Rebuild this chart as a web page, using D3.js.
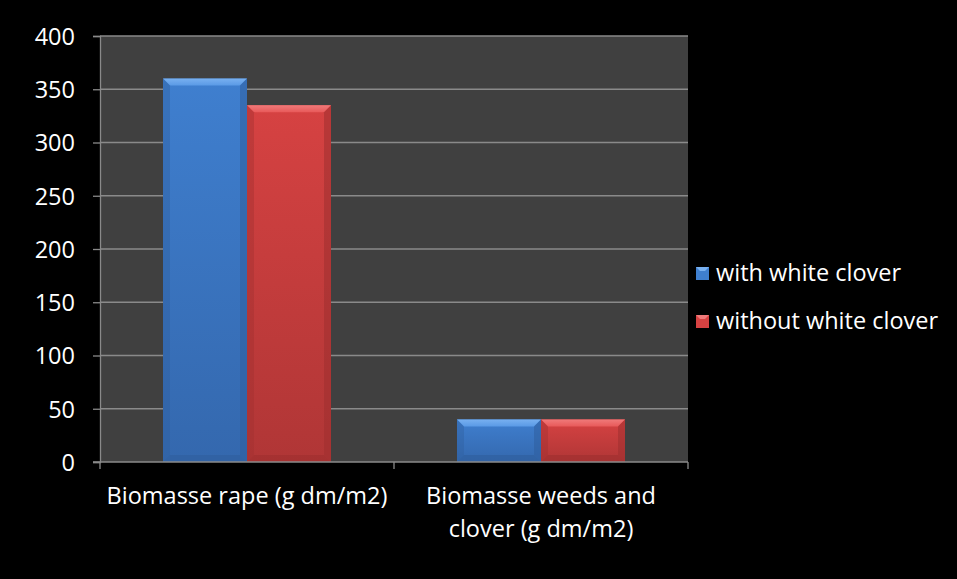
<!DOCTYPE html>
<html>
<head>
<meta charset="utf-8">
<script src="https://cdn.jsdelivr.net/npm/d3@7/dist/d3.min.js"></script>
<style>
  html, body { margin: 0; padding: 0; background: #000; }
  svg { display: block; }
  text { font-family: "Open Sans", "Liberation Sans", sans-serif; fill: #fff; }
</style>
</head>
<body>
<svg id="chart" width="957" height="579"></svg>
<script>
// Biomass data: two categories, two treatments
const categories = ["Biomasse rape (g dm/m2)", "Biomasse weeds and clover (g dm/m2)"];
const categoryLines = [["Biomasse rape (g dm/m2)"], ["Biomasse weeds and", "clover (g dm/m2)"]];
const seriesNames = ["with white clover", "without white clover"];
const withClover = [360, 40];
const withoutClover = [335, 40];
const yTicks = [0, 50, 100, 150, 200, 250, 300, 350, 400];

const seriesValues = [withClover, withoutClover];
const palette = [
  { top: "#5a9ae6", mid: "#3f7fcf", bot: "#3468ae", edge: "#2f5f9e", bevel: "#78b0f0" },
  { top: "#e85a5a", mid: "#d64242", bot: "#b03636", edge: "#9f2f2f", bevel: "#f07a7a" }
];

const svg = d3.select("#chart");
const W = 957, H = 579;
const plot = { left: 100, right: 688, top: 36, bottom: 462 };
const labelSize = "23.5px";

svg.append("rect").attr("width", W).attr("height", H).attr("fill", "#000");

const x = d3.scaleBand().domain(categories).range([plot.left, plot.right]).padding(0);
const y = d3.scaleLinear().domain([0, 400]).range([plot.bottom, plot.top]);

// plot background
svg.append("rect")
  .attr("x", plot.left).attr("y", plot.top)
  .attr("width", plot.right - plot.left).attr("height", plot.bottom - plot.top)
  .attr("fill", "#404040");

// gridlines
svg.append("g").selectAll("line").data(yTicks.filter(d => d > 0)).join("line")
  .attr("x1", plot.left).attr("x2", plot.right)
  .attr("y1", d => y(d)).attr("y2", d => y(d))
  .attr("stroke", "#8a8a8a").attr("stroke-width", 1.3);

// gradients per series
const defs = svg.append("defs");
palette.forEach((p, i) => {
  const g = defs.append("linearGradient").attr("id", "body" + i)
    .attr("x1", 0).attr("y1", 0).attr("x2", 0).attr("y2", 1);
  g.append("stop").attr("offset", "0%").attr("stop-color", p.mid);
  g.append("stop").attr("offset", "100%").attr("stop-color", p.bot);
  const t = defs.append("linearGradient").attr("id", "bevel" + i)
    .attr("x1", 0).attr("y1", 0).attr("x2", 0).attr("y2", 1);
  t.append("stop").attr("offset", "0%").attr("stop-color", p.bevel);
  t.append("stop").attr("offset", "100%").attr("stop-color", p.top);
});

// bars: group of two, gap width 150% of a bar
const inner = d3.scaleBand().domain(d3.range(seriesNames.length))
  .range([0, x.bandwidth()]).paddingInner(0).paddingOuter(0.75);

const bars = [];
categories.forEach((c, ci) => {
  seriesValues.forEach((vals, si) => {
    bars.push({ c, si, v: vals[ci] });
  });
});

const bevel = 7;
const barG = svg.append("g");
bars.forEach(b => {
  const x0 = x(b.c) + inner(b.si);
  const w = inner.bandwidth();
  const y0 = y(b.v), y1 = y(0);
  const h = y1 - y0;
  const p = palette[b.si];
  const g = barG.append("g");
  g.append("rect").attr("x", x0).attr("y", y0).attr("width", w).attr("height", h)
    .attr("fill", `url(#body${b.si})`);
  const bv = Math.min(bevel, h / 2);
  // top bevel
  g.append("path")
    .attr("d", `M${x0},${y0} L${x0 + w},${y0} L${x0 + w - bv},${y0 + bv} L${x0 + bv},${y0 + bv} Z`)
    .attr("fill", `url(#bevel${b.si})`);
  // side bevels
  g.append("path")
    .attr("d", `M${x0},${y0} L${x0 + bv},${y0 + bv} L${x0 + bv},${y1 - bv} L${x0},${y1} Z`)
    .attr("fill", p.edge).attr("opacity", 0.4);
  g.append("path")
    .attr("d", `M${x0 + w},${y0} L${x0 + w - bv},${y0 + bv} L${x0 + w - bv},${y1 - bv} L${x0 + w},${y1} Z`)
    .attr("fill", p.edge).attr("opacity", 0.55);
  // bottom bevel
  g.append("path")
    .attr("d", `M${x0},${y1} L${x0 + bv},${y1 - bv} L${x0 + w - bv},${y1 - bv} L${x0 + w},${y1} Z`)
    .attr("fill", p.edge).attr("opacity", 0.65);
});

// y axis
const yAxis = svg.append("g").attr("transform", `translate(${plot.left},0)`)
  .call(d3.axisLeft(y).tickValues(yTicks).tickSize(7).tickPadding(18).tickFormat(d3.format("d")));
yAxis.select(".domain").attr("stroke", "#8a8a8a").attr("stroke-width", 1.3);
yAxis.selectAll(".tick line").attr("stroke", "#8a8a8a").attr("stroke-width", 1.3);
yAxis.selectAll(".tick text").attr("fill", "#fff")
  .style("font-size", labelSize).style("font-family", "'Open Sans', sans-serif").attr("dy", "0.36em");

// x axis baseline and category boundary ticks
const xAxisG = svg.append("g");
xAxisG.append("line").attr("x1", plot.left - 7).attr("x2", plot.right)
  .attr("y1", y(0)).attr("y2", y(0)).attr("stroke", "#8a8a8a").attr("stroke-width", 1.3);
const boundaries = categories.map(c => x(c)).concat([x(categories[categories.length - 1]) + x.bandwidth()]);
xAxisG.selectAll("line.tk").data(boundaries).join("line").attr("class", "tk")
  .attr("x1", d => d).attr("x2", d => d).attr("y1", y(0)).attr("y2", y(0) + 7)
  .attr("stroke", "#8a8a8a").attr("stroke-width", 1.3);

// category labels
categories.forEach((c, ci) => {
  const t = svg.append("text").attr("text-anchor", "middle")
    .style("font-size", labelSize);
  categoryLines[ci].forEach((line, li) => {
    t.append("tspan").attr("x", x(c) + x.bandwidth() / 2)
      .attr("y", 504 + li * 33).text(line);
  });
});

// legend
const legend = svg.append("g");
seriesNames.forEach((name, i) => {
  const ly = 273 + i * 48;
  const p = palette[i];
  const lg = legend.append("g");
  lg.append("rect").attr("x", 696).attr("y", ly - 6).attr("width", 13).attr("height", 13)
    .attr("fill", p.mid);
  lg.append("path")
    .attr("d", `M696,${ly - 6} L709,${ly - 6} L705,${ly - 2} L700,${ly - 2} Z`)
    .attr("fill", p.bevel);
  lg.append("text").attr("x", 716).attr("y", ly).attr("dy", "0.36em")
    .style("font-size", labelSize).text(name);
});
</script>
</body>
</html>
